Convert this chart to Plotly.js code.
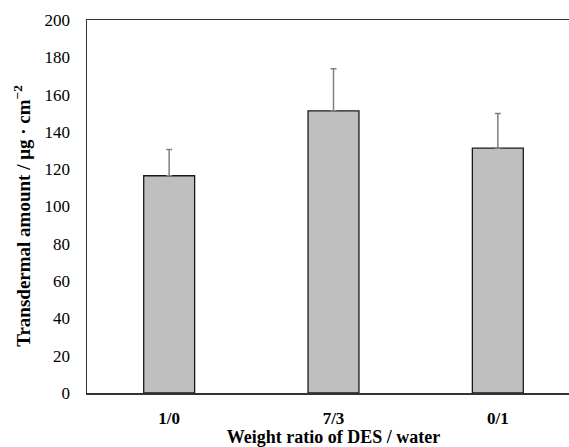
<!DOCTYPE html>
<html>
<head>
<meta charset="utf-8">
<script src="https://cdn.plot.ly/plotly-3.0.1.min.js"></script>
<style>html,body{margin:0;padding:0;overflow:hidden;background:#fff;width:569px;height:447px;}</style>
</head>
<body>
<div id="chart" style="width:580px;height:447px;"></div>
<script>
const categories = ["1/0", "7/3", "0/1"];
const amounts = [116.5, 151.3, 131.3];
const errorsUp = [14.0, 22.5, 18.5];
const yTickValues = [0, 20, 40, 60, 80, 100, 120, 140, 160, 180, 200];
const yTitle = '<b>Transdermal amount / μg · cm<sup>−2</sup></b>';
const xTitle = '<b>Weight ratio of DES / water</b>';

const FONT = 'Liberation Serif, Times New Roman, serif';

const trace = {
  type: 'bar',
  x: categories,
  y: amounts,
  marker: {color: '#bfbfbf', line: {color: '#1a1a1a', width: 1.3}},
  error_y: {type: 'data', array: errorsUp, arrayminus: errorsUp.map(() => 0), symmetric: false,
            color: '#7f7f7f', thickness: 1.5, width: 3},
  hoverinfo: 'none'
};

const layout = {
  width: 580, height: 447,
  margin: {l: 87, r: 0, t: 20, b: 54},
  paper_bgcolor: '#fff', plot_bgcolor: '#fff',
  showlegend: false,
  bargap: 0.69,
  font: {family: FONT, color: '#000'},
  xaxis: {
    type: 'category',
    showline: true, linecolor: '#333', linewidth: 1.5, mirror: true,
    showgrid: false, zeroline: false,
    ticks: 'outside', ticklen: 9, tickcolor: 'rgba(0,0,0,0)',
    tickfont: {size: 17, family: FONT, weight: 'bold'},
    title: {text: xTitle, font: {size: 18, family: FONT}, standoff: 6}
  },
  yaxis: {
    range: [0, 200], tickvals: yTickValues,
    showline: true, linecolor: '#333', linewidth: 1.5, mirror: true,
    showgrid: false, zeroline: false,
    ticks: 'outside', ticklen: 12, tickcolor: 'rgba(0,0,0,0)',
    tickfont: {size: 17, family: FONT}
  },
  annotations: [{
    text: yTitle, textangle: -90,
    xref: 'paper', x: 0, xshift: -65, xanchor: 'center',
    yref: 'paper', y: 0.475, yanchor: 'middle',
    showarrow: false, font: {size: 19, family: FONT, color: '#000'}
  }]
};

Plotly.newPlot('chart', [trace], layout, {staticPlot: true, displayModeBar: false});
</script>
</body>
</html>
